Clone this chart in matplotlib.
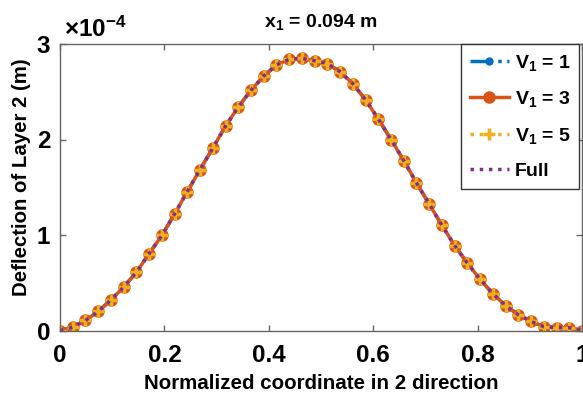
import numpy as np
import matplotlib
matplotlib.use('Agg')
import matplotlib.pyplot as plt

plt.rcParams['font.family'] = ['Liberation Sans', 'DejaVu Sans']
plt.rcParams['font.weight'] = 'bold'
plt.rcParams['axes.labelweight'] = 'bold'
plt.rcParams['mathtext.fontset'] = 'custom'
plt.rcParams['mathtext.rm'] = 'Liberation Sans:bold'
plt.rcParams['mathtext.it'] = 'Liberation Sans:bold'
plt.rcParams['mathtext.bf'] = 'Liberation Sans:bold'
plt.rcParams['mathtext.default'] = 'regular'

# normalized coordinate in 2 direction (42 sample points)
x_norm = np.linspace(0, 1, 42)

# deflection of layer 2, in units of 1e-4 m (all solutions coincide)
deflection = [0.0, 0.035, 0.105, 0.20, 0.32, 0.455, 0.61, 0.805, 0.995, 1.22,
              1.455, 1.685, 1.91, 2.14, 2.34, 2.515, 2.665, 2.78, 2.84, 2.85,
              2.825, 2.795, 2.71, 2.585, 2.415, 2.215, 2.0, 1.78, 1.545, 1.325,
              1.10, 0.89, 0.705, 0.535, 0.385, 0.26, 0.165, 0.095, 0.04, 0.03,
              0.03, 0.0]

labels = ['V$_1$ = 1', 'V$_1$ = 3', 'V$_1$ = 5', 'Full']
xticks = [0, 0.2, 0.4, 0.6, 0.8, 1]
xticklabels = ['0', '0.2', '0.4', '0.6', '0.8', '1']
yticks = [0, 1, 2, 3]

fig = plt.figure(figsize=(5.83, 3.98), dpi=100)
ax = fig.add_axes([60/583, (398-330.5)/398, 522/583, 286.5/398])

ax.plot(x_norm, deflection, color='#0072BD', ls='-.', lw=2.5,
        marker='.', ms=10, label=labels[0])
ax.plot(x_norm, deflection, color='#D95319', ls='-', lw=2.5,
        marker='o', ms=8, label=labels[1])
ax.plot(x_norm, deflection, color='#EDB120', ls=':', lw=2.5,
        marker='+', ms=8, mew=2.5, label=labels[2])
ax.plot(x_norm, deflection, color='#7E2F8E', ls=':', lw=2.5, label=labels[3])

ax.set_xlim(0, 1)
ax.set_ylim(0, 3)
ax.set_xticks(xticks)
ax.set_xticklabels(xticklabels)
ax.set_yticks(yticks)
ax.tick_params(direction='in', top=True, right=True, length=4, width=1,
               color='0.4', labelsize=17.5)
ax.tick_params(axis='x', pad=9.5)
ax.tick_params(axis='y', pad=7)
for s in ax.spines.values():
    s.set_color('0.4')
    s.set_linewidth(1)

ax.set_xlabel('Normalized coordinate in 2 direction', fontsize=14.8,
              fontweight='bold')
ax.set_ylabel('Deflection of Layer 2 (m)', fontsize=14.7, fontweight='bold')
ax.xaxis.set_label_coords(0.5, -0.152)
ax.yaxis.set_label_coords(-0.0556, 0.534)

ax.text(0.008, 1.024, r'$\times10^{-4}$', transform=ax.transAxes,
        fontsize=17.5, va='baseline', ha='left')
ax.text(0.5, 1.058, r'x$_1$ = 0.094 m', transform=ax.transAxes,
        fontsize=14, va='baseline', ha='center')

leg = ax.legend(loc='upper right', bbox_to_anchor=(0.995, 1),
                borderaxespad=0.0, fontsize=14, fancybox=False, framealpha=1,
                handlelength=2.0, handletextpad=0.3, labelspacing=0.85,
                borderpad=0.45)
leg.get_frame().set_edgecolor('0.2')
leg.get_frame().set_linewidth(1)

fig.savefig('out.png', dpi=100)
